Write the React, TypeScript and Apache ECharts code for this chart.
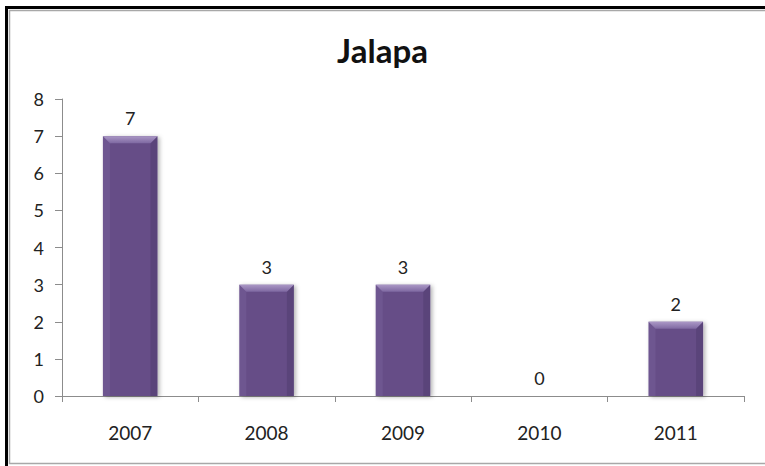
import React, { useEffect, useRef } from "react";
import * as echarts from "echarts";

const categories = ["2007", "2008", "2009", "2010", "2011"];
const values = [7, 3, 3, 0, 2];
const yTicks = [0, 1, 2, 3, 4, 5, 6, 7, 8];
const titleText = "Jalapa";

const FONT = "Lato, 'Open Sans', sans-serif";

export default function App() {
  const ref = useRef<HTMLDivElement>(null);
  useEffect(() => {
    if (!ref.current) return;
    const chart = echarts.init(ref.current, undefined, { renderer: "svg" });
    const barRatio = 0.4;
    chart.setOption({
      animation: false,
      backgroundColor: "#ffffff",
      title: {
        text: titleText,
        left: "center",
        top: 28,
        textStyle: { fontFamily: FONT, fontSize: 33, fontWeight: "bold", color: "#111" },
      },
      grid: { left: 62, right: 21, top: 99, bottom: 70, containLabel: false },
      xAxis: {
        type: "category",
        data: categories,
        axisLine: { lineStyle: { color: "#8c8c8c", width: 1 } },
        axisTick: { show: true, length: 6, alignWithLabel: false, lineStyle: { color: "#8c8c8c" } },
        axisLabel: { fontFamily: FONT, fontSize: 19, color: "#222", margin: 27 },
      },
      yAxis: {
        type: "value",
        min: yTicks[0],
        max: yTicks[yTicks.length - 1],
        interval: 1,
        axisLine: { show: true, lineStyle: { color: "#8c8c8c", width: 1 } },
        axisTick: { show: true, length: 7, lineStyle: { color: "#8c8c8c" } },
        splitLine: { show: false },
        axisLabel: { fontFamily: FONT, fontSize: 18, color: "#222", margin: 18 },
      },
      graphic: [
        { type: "rect", shape: { x: 5, y: 6, width: 800, height: 3 }, style: { fill: "#000" }, z: 100 },
        { type: "rect", shape: { x: 5, y: 6, width: 3, height: 470 }, style: { fill: "#000" }, z: 100 },
        { type: "rect", shape: { x: 9.5, y: 10.5, width: 800, height: 453 }, style: { fill: "none", stroke: "#a8a8a8", lineWidth: 1.5 }, z: 100 },
      ],
      series: [
        {
          type: "bar",
          data: values,
          barWidth: `${barRatio * 100}%`,
          itemStyle: {
            color: "#664e87",
            shadowColor: "rgba(0,0,0,0.3)",
            shadowBlur: 4,
            shadowOffsetX: 2,
            shadowOffsetY: 1,
          },
          label: {
            show: true,
            position: "top",
            distance: 9,
            fontFamily: FONT,
            fontSize: 18,
            color: "#222",
          },
          z: 2,
        },
        {
          type: "custom",
          data: values.map((v, i) => [i, v]),
          z: 3,
          silent: true,
          renderItem: (params: any, api: any) => {
            const idx = api.value(0);
            const v = api.value(1);
            if (!v) return { type: "group", children: [] };
            const top = api.coord([idx, v]);
            const bot = api.coord([idx, 0]);
            const w = api.size([1, 0])[0] * barRatio;
            const x0 = top[0] - w / 2;
            const x1 = top[0] + w / 2;
            const yt = top[1];
            const yb = bot[1];
            const b = 7;
            return {
              type: "group",
              children: [
                {
                  type: "polygon",
                  shape: { points: [[x0, yt], [x0 + b, yt + b], [x0 + b, yb], [x0, yb]] },
                  style: { fill: "rgba(150,130,190,0.18)" },
                },
                {
                  type: "polygon",
                  shape: { points: [[x1, yt], [x1 - b, yt + b], [x1 - b, yb], [x1, yb]] },
                  style: { fill: "rgba(40,25,65,0.18)" },
                },
                {
                  type: "polygon",
                  shape: { points: [[x0, yt], [x1, yt], [x1 - b, yt + b], [x0 + b, yt + b]] },
                  style: {
                    fill: new echarts.graphic.LinearGradient(0, 0, 0, 1, [
                      { offset: 0, color: "#ab98c6" },
                      { offset: 1, color: "#7f69a2" },
                    ]),
                  },
                },
              ],
            };
          },
        },
      ],
    });
    return () => chart.dispose();
  }, []);
  return (
    <div
      ref={ref}
      style={{ position: "fixed", left: 0, top: 0, width: 765, height: 466 }}
    />
  );
}
